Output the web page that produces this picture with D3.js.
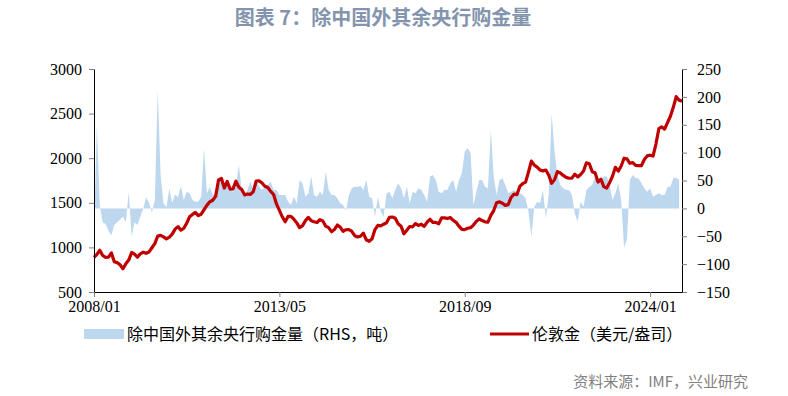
<!DOCTYPE html>
<html>
<head>
<meta charset="utf-8">
<script src="https://cdn.jsdelivr.net/npm/d3@7"></script>
<style>
  body { margin: 0; background: #fff; }
  svg { display: block; }
</style>
</head>
<body>
<svg id="chart" width="788" height="396"></svg>
<script>
// monthly series, 2008/01 .. 2024/12
var startYear = 2008;

// London gold, USD/oz (left axis)
var gold = [
  889, 922, 968, 909, 888, 890, 939, 839, 829, 806, 760, 816,
  858, 943, 924, 890, 928, 946, 934, 949, 996, 1043, 1127, 1135,
  1118, 1095, 1114, 1149, 1205, 1233, 1193, 1215, 1271, 1343, 1370, 1392,
  1356, 1372, 1424, 1474, 1512, 1529, 1572, 1756, 1772, 1665, 1739, 1652,
  1656, 1743, 1675, 1649, 1589, 1598, 1594, 1626, 1744, 1747, 1722, 1685,
  1671, 1628, 1593, 1487, 1414, 1343, 1287, 1347, 1349, 1316, 1275, 1221,
  1244, 1300, 1336, 1299, 1288, 1279, 1311, 1296, 1238, 1222, 1176, 1200,
  1251, 1227, 1179, 1198, 1199, 1181, 1131, 1117, 1125, 1159, 1086, 1068,
  1097, 1200, 1246, 1242, 1260, 1276, 1337, 1341, 1326, 1266, 1238, 1152,
  1192, 1234, 1231, 1267, 1246, 1260, 1236, 1283, 1315, 1280, 1281, 1265,
  1331, 1331, 1325, 1335, 1304, 1281, 1238, 1202, 1199, 1215, 1221, 1250,
  1292, 1320, 1301, 1286, 1284, 1359, 1413, 1500, 1511, 1495, 1471, 1480,
  1560, 1597, 1591, 1683, 1715, 1732, 1846, 1968, 1922, 1900, 1866, 1858,
  1867, 1808, 1718, 1760, 1850, 1834, 1807, 1785, 1775, 1777, 1821, 1790,
  1817, 1856, 1948, 1937, 1849, 1837, 1733, 1765, 1681, 1665, 1726, 1798,
  1898, 1855, 1913, 2000, 1992, 1943, 1951, 1919, 1916, 1917, 1985, 2026,
  2034, 2024, 2159, 2331, 2350, 2326, 2398, 2470, 2570, 2690, 2650, 2640
];

// central bank gold purchases ex-China, tonnes (right axis)
var buying = [
  -45, 148, 5, -25, -28, -40, -48, -30, -25, -20, -15, -25,
  30, -50, -25, -30, -15, 0, 20, 10, -8, 15, 212, 60,
  9, 2, 35, 10, 25, 20, 40, 15, 30, 27, 15, 12,
  12, 21, 108, 27, 39, 24, 27, 39, 57, 42, 51, 33,
  30, 39, 78, 33, 24, 33, 48, 33, 51, 39, 33, 39,
  42, 48, 33, 33, 24, 24, 24, 12, 6, 21, 9, 51,
  45, 21, 27, 57, 24, 21, 30, 24, 66, 33, 24, 24,
  18, 9, 6, -4, 24, 36, 39, 39, 40, 33, 51, 21,
  18, -15, 21, -6, -15, 27, 30, 18, 33, 45, 36, 18,
  39, 9, 30, 27, 36, 33, 24, 12, 57, 60, 51, 30,
  27, 33, 33, 45, 51, 30, 51, 63, 102, 108, 100, 5,
  30, 51, 51, 39, 36, 140, 57, 24, 51, 54, 42, 27,
  30, 33, 30, 27, 24, 18, -6, -51, 3, 12, 9, 33,
  -18, 27, 170, 102, 60, 42, 36, 33, 33, 24, -9, -24,
  12, 3, 33, 39, 42, 57, 48, 48, 57, 57, 42, 15,
  27, 45, 15, -70, -55, 51, 60, 54, 54, 45, 36, 30,
  36, 21, 24, 27, 24, 24, 39, 39, 54, 55, 51
];

var xTicks = ["2008/01", "2013/05", "2018/09", "2024/01"];
var leftTicks = [500, 1000, 1500, 2000, 2500, 3000];
var rightTicks = [-150, -100, -50, 0, 50, 100, 150, 200, 250];

var titleText = "图表 7：除中国外其余央行购金量";
var legendBlue = "除中国外其余央行购金量（RHS，吨）";
var legendRed = "伦敦金（美元/盎司）";
var sourceText = "资料来源：IMF，兴业研究";

var months = gold.map(function(d, i) {
  var y = startYear + Math.floor(i / 12), m = i % 12 + 1;
  return y + "/" + (m < 10 ? "0" + m : m);
});

var plotL = 94, plotR = 682, plotT = 69, plotB = 292;
var blueColor = "#bdd7ee", redColor = "#c00000";
var serif = "'Liberation Serif', 'Times New Roman', serif";

var svg = d3.select("#chart");
svg.append("rect").attr("width", 788).attr("height", 396).attr("fill", "#fff");

var x = d3.scalePoint().domain(months).range([plotL, plotR]);
var yL = d3.scaleLinear().domain([500, 3000]).range([plotB, plotT]);
var yR = d3.scaleLinear().domain([-150, 250]).range([plotB, plotT]);

// title
svg.append("text")
    .attr("x", 383).attr("y", 25)
    .attr("text-anchor", "middle")
    .attr("font-family", "'Noto Sans CJK SC', sans-serif")
    .attr("font-size", 20).attr("font-weight", "bold")
    .attr("fill", "#8394ad")
    .text(titleText);

// blue area on right axis
var area = d3.area()
    .x(function(d, i) { return x(months[i]); })
    .y0(yR(0))
    .y1(function(d) { return yR(d); });

svg.append("path")
    .datum(buying)
    .attr("d", area)
    .attr("fill", blueColor);

// gold line on left axis
var line = d3.line()
    .x(function(d, i) { return x(months[i]); })
    .y(function(d) { return yL(d); });

svg.append("path")
    .datum(gold)
    .attr("d", line)
    .attr("fill", "none")
    .attr("stroke", redColor)
    .attr("stroke-width", 3.2)
    .attr("stroke-linejoin", "round");

// axes
function styleAxis(g) {
  g.attr("font-family", serif).attr("font-size", 16);
  g.selectAll("text")
      .style("font-family", serif)
      .style("font-size", "16px")
      .attr("fill", "#000");
  g.select(".domain").attr("stroke", "#000");
  g.selectAll(".tick line").attr("stroke", "#7f7f7f");
}

svg.append("g")
    .attr("transform", "translate(" + plotL + ",0)")
    .call(d3.axisLeft(yL).tickValues(leftTicks).tickFormat(d3.format("d"))
      .tickSize(5).tickSizeOuter(0).tickPadding(7))
    .call(styleAxis);

svg.append("g")
    .attr("transform", "translate(" + plotR + ",0)")
    .call(d3.axisRight(yR).tickValues(rightTicks).tickFormat(d3.format("d"))
      .tickSize(5).tickSizeOuter(0).tickPadding(10))
    .call(styleAxis);

svg.append("g")
    .attr("transform", "translate(0," + plotB + ")")
    .call(d3.axisBottom(x).tickValues(xTicks).tickSize(5).tickSizeOuter(0).tickPadding(4))
    .call(styleAxis);

// legend
svg.append("rect")
    .attr("x", 84).attr("y", 329).attr("width", 40).attr("height", 10)
    .attr("fill", blueColor);
svg.append("text")
    .attr("x", 127).attr("y", 340)
    .attr("font-family", "'Noto Sans CJK SC', sans-serif")
    .attr("font-size", 16).attr("fill", "#000")
    .text(legendBlue);

svg.append("line")
    .attr("x1", 490).attr("x2", 529).attr("y1", 334).attr("y2", 334)
    .attr("stroke", redColor).attr("stroke-width", 3);
svg.append("text")
    .attr("x", 532).attr("y", 340)
    .attr("font-family", "'Noto Sans CJK SC', sans-serif")
    .attr("font-size", 16).attr("fill", "#000")
    .text(legendRed);

// source
svg.append("text")
    .attr("x", 748).attr("y", 387)
    .attr("text-anchor", "end")
    .attr("font-family", "'Noto Sans CJK SC', sans-serif")
    .attr("font-size", 15).attr("fill", "#808080")
    .text(sourceText);
</script>
</body>
</html>
